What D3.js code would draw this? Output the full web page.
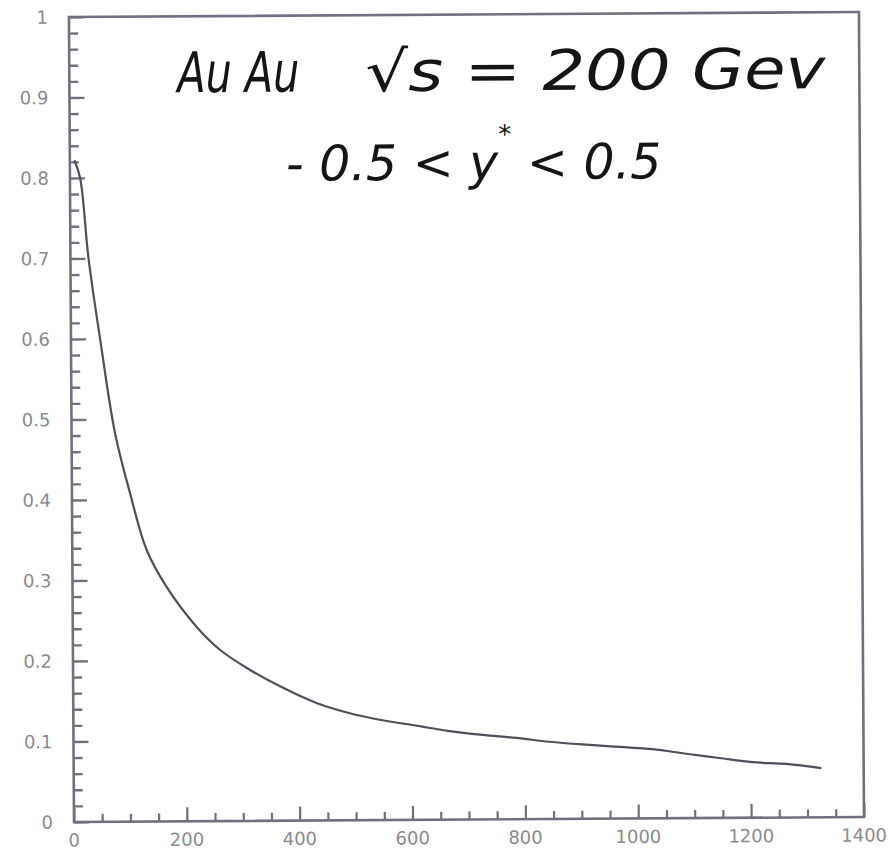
<!DOCTYPE html>
<html><head><meta charset="utf-8">
<script src="https://cdn.jsdelivr.net/npm/d3@7"></script>
<style>body{margin:0;background:#fff}svg{display:block}</style>
</head><body>
<svg id="c" width="891" height="867"></svg>
<script>
// ---- data ----
const xTickValues = [0, 200, 400, 600, 800, 1000, 1200, 1400];
const xTickLabels = ["0", "200", "400", "600", "800", "1000", "1200", "1400"];
const yTickValues = [0, 0.1, 0.2, 0.3, 0.4, 0.5, 0.6, 0.7, 0.8, 0.9, 1];
const yTickLabels = ["0", "0.1", "0.2", "0.3", "0.4", "0.5", "0.6", "0.7", "0.8", "0.9", "1"];
const curveX = [8, 18, 32, 52, 77, 103, 132, 167, 220, 261, 308, 372, 431, 490, 548, 608, 666, 725, 785, 843, 909, 968, 1026, 1086, 1144, 1203, 1263, 1325];
const curveY = [0.822, 0.80, 0.70, 0.598, 0.483, 0.408, 0.337, 0.291, 0.241, 0.2125, 0.190, 0.165, 0.146, 0.133, 0.124, 0.117, 0.110, 0.105, 0.101, 0.096, 0.092, 0.089, 0.086, 0.080, 0.0745, 0.069, 0.0666, 0.061];
const titleLine1 = ["Au Au", "√s = 200 Gev"];
const titleLine2 = ["- 0.5 < y", "*", " < 0.5"];

// ---- layout ----
const svg = d3.select("#c");
const L = 74, R = 864, T = 17, B = 822;
const x = d3.scaleLinear().domain([0, 1400]).range([L, R]);
const y = d3.scaleLinear().domain([0, 1]).range([B, T]);

const g = svg.append("g").attr("transform", `rotate(-0.36, ${L}, ${B})`);

const axisCol = "#707180";
const labelCol = "#8a8a90";

// frame
g.append("rect").attr("x", L).attr("y", T).attr("width", R - L).attr("height", B - T)
  .attr("fill", "none").attr("stroke", axisCol).attr("stroke-width", 2.6);

// left axis ticks (inward)
const yMinor = d3.range(0, 1.0001, 0.02).filter(v => Math.abs(v * 10 - Math.round(v * 10)) > 1e-6);
const yAxisMaj = d3.axisRight(y).tickValues(yTickValues).tickSize(15).tickFormat("");
const yAxisMin = d3.axisRight(y).tickValues(yMinor).tickSize(9).tickFormat("");
[yAxisMaj, yAxisMin].forEach(ax => {
  const a = g.append("g").attr("transform", `translate(${L},0)`).call(ax);
  a.select(".domain").remove();
  a.selectAll("line").attr("stroke", axisCol).attr("stroke-width", 2.4);
});
// bottom axis ticks (inward)
const xMinor = d3.range(0, 1400.1, 50).filter(v => v % 200 !== 0);
const xAxisMaj = d3.axisTop(x).tickValues(xTickValues).tickSize(14).tickFormat("");
const xAxisMin = d3.axisTop(x).tickValues(xMinor).tickSize(8).tickFormat("");
[xAxisMaj, xAxisMin].forEach(ax => {
  const a = g.append("g").attr("transform", `translate(0,${B})`).call(ax);
  a.select(".domain").remove();
  a.selectAll("line").attr("stroke", axisCol).attr("stroke-width", 2.2);
});

// tick labels
g.append("g").selectAll("text").data(yTickValues).join("text")
  .attr("x", 53).attr("y", d => y(d)).attr("text-anchor", "end").attr("dominant-baseline", "central")
  .attr("font-family", "DejaVu Sans, sans-serif").attr("font-size", 18).attr("fill", labelCol)
  .text((d, i) => yTickLabels[i]);
g.append("g").selectAll("text").data(xTickValues).join("text")
  .attr("x", d => x(d)).attr("y", 840).attr("text-anchor", "middle").attr("dominant-baseline", "central")
  .attr("font-family", "DejaVu Sans, sans-serif").attr("font-size", 18).attr("fill", labelCol)
  .text((d, i) => xTickLabels[i]);

// curve
const pts = curveX.map((v, i) => [v, curveY[i]]);
g.append("path").datum(pts)
  .attr("fill", "none").attr("stroke", "#4f5059").attr("stroke-width", 2.2)
  .attr("d", d3.line().x(d => x(d[0])).y(d => y(d[1])).curve(d3.curveCatmullRom.alpha(0.5)));

// handwritten annotation
const hw = g.append("g").attr("font-family", "DejaVu Sans, sans-serif").attr("font-style", "italic")
  .attr("fill", "#151515");
hw.append("text").attr("x", 182).attr("y", 93).attr("font-size", 56)
  .attr("textLength", 122).attr("lengthAdjust", "spacingAndGlyphs").text(titleLine1[0]);
hw.append("text").attr("x", 370).attr("y", 93).attr("font-size", 56)
  .attr("textLength", 460).attr("lengthAdjust", "spacingAndGlyphs").text(titleLine1[1]);
const t2 = hw.append("text").attr("x", 290).attr("y", 182).attr("font-size", 49);
t2.append("tspan").text(titleLine2[0]);
t2.append("tspan").attr("font-size", 26).attr("dy", -36).text(titleLine2[1]);
t2.append("tspan").attr("dy", 36).text(titleLine2[2]);
</script>
</body></html>
